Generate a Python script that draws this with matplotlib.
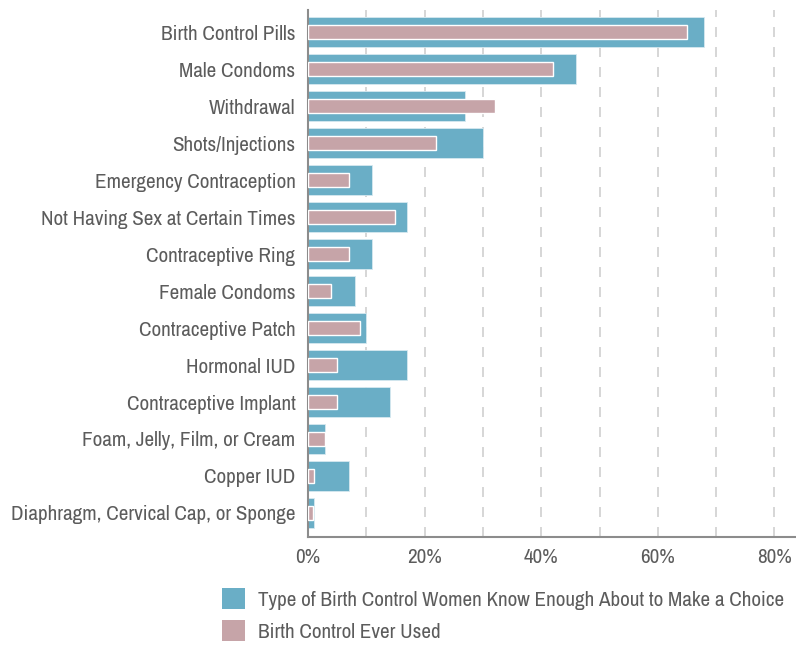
import numpy as np
import matplotlib.pyplot as plt
from matplotlib.patches import Patch

plt.rcParams['font.family'] = ['Archivo Narrow', 'Liberation Sans', 'DejaVu Sans']

methods = ['Birth Control Pills', 'Male Condoms', 'Withdrawal', 'Shots/Injections',
           'Emergency Contraception', 'Not Having Sex at Certain Times',
           'Contraceptive Ring', 'Female Condoms', 'Contraceptive Patch',
           'Hormonal IUD', 'Contraceptive Implant', 'Foam, Jelly, Film, or Cream',
           'Copper IUD', 'Diaphragm, Cervical Cap, or Sponge']
know_enough = [68, 46, 27, 30, 11, 17, 11, 8, 10, 17, 14, 3, 7, 1]
ever_used = [65, 42, 32, 22, 7, 15, 7, 4, 9, 5, 5, 3, 1, 0.9]
xticks = [0, 20, 40, 60, 80]

blue = '#6aaec6'
pink = '#c6a4a8'
txt = '#5c5c5c'

fig = plt.figure(figsize=(7.96, 6.45), dpi=100)
ax = fig.add_axes([308/796, 108/645, 488/796, 527/645])

y = np.arange(len(methods))
ax.barh(y, know_enough, height=0.81, color=blue, edgecolor='#d6e9f0', linewidth=0.6, zorder=2)
ax.barh(y, ever_used, height=0.39, color=pink, edgecolor='white', linewidth=1.0, zorder=3)

ax.set_ylim(len(methods) - 1 + 0.65, -0.6)
ax.set_xlim(0, 83.7)
ax.set_yticks(y)
ax.set_yticklabels(methods, fontsize=15.2, color=txt)
ax.set_xticks(xticks)
ax.set_xticklabels([f'{t}%' for t in xticks], fontsize=15.2, color=txt)
ax.set_xticks(np.arange(10, 90, 10), minor=True)
ax.tick_params(axis='both', which='both', length=0)
ax.tick_params(axis='y', pad=9)
ax.tick_params(axis='x', pad=8)

ax.grid(which='both', axis='x', color='#d0d0d0', linestyle=(0, (6, 6)), linewidth=1.2, zorder=0)
ax.set_axisbelow(True)
for s in ['top', 'right']:
    ax.spines[s].set_visible(False)
for s in ['left', 'bottom']:
    ax.spines[s].set_color('#8c8c8c')
    ax.spines[s].set_linewidth(1.5)

handles = [Patch(facecolor=blue, label='Type of Birth Control Women Know Enough About to Make a Choice'),
           Patch(facecolor=pink, label='Birth Control Ever Used')]
leg = fig.legend(handles=handles, loc='upper left', bbox_to_anchor=(205/796, 1 - 571/645),
                 frameon=False, fontsize=15.2, handlelength=1.1, handleheight=1.15,
                 handletextpad=0.62, labelspacing=0.5, borderpad=0.3)
for t in leg.get_texts():
    t.set_color(txt)

fig.savefig('out.png', dpi=100)
